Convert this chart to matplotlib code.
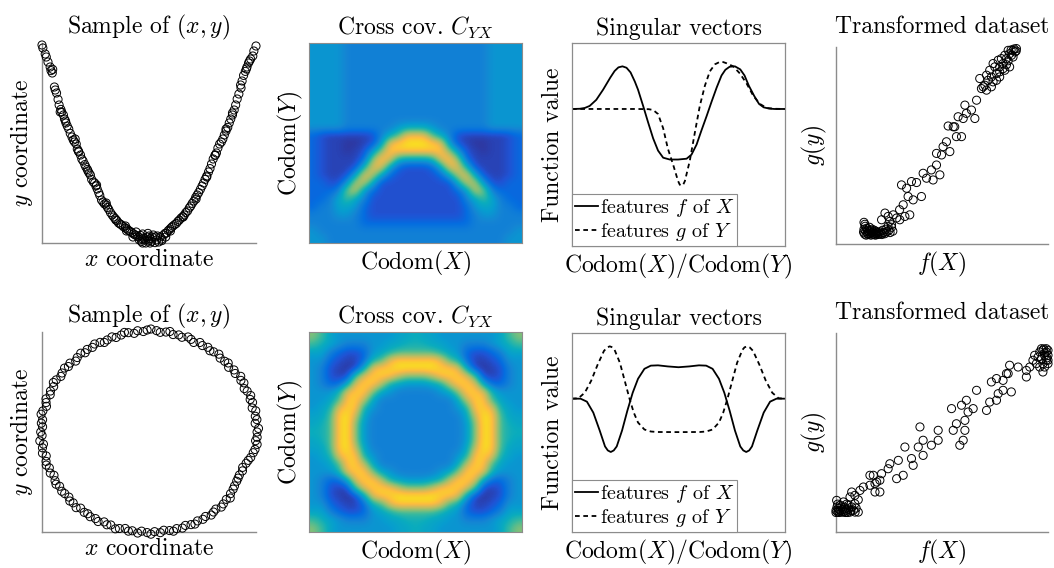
import matplotlib
matplotlib.use("Agg")
import matplotlib.pyplot as plt
import numpy as np
from matplotlib.colors import LinearSegmentedColormap

plt.rcParams['font.family'] = 'cmr10'
plt.rcParams['mathtext.fontset'] = 'cm'
plt.rcParams['axes.unicode_minus'] = False
plt.rcParams['axes.formatter.use_mathtext'] = True

# ---------------------------------------------------------------
# data (axes are normalised to 0..1)
# ---------------------------------------------------------------

# parabola sample (top left)
PARABOLA = [
    (0.000, 0.990), (0.004, 0.975), (0.015, 0.945), (0.020, 0.930), (0.028, 0.905),
    (0.038, 0.880), (0.042, 0.862), (0.048, 0.850), (0.050, 0.868), (0.058, 0.780),
    (0.062, 0.765), (0.068, 0.750), (0.075, 0.718), (0.080, 0.690), (0.085, 0.655),
    (0.088, 0.668), (0.092, 0.655), (0.100, 0.640), (0.105, 0.620), (0.110, 0.610),
    (0.112, 0.600), (0.118, 0.585), (0.125, 0.570), (0.132, 0.548), (0.140, 0.530),
    (0.146, 0.515), (0.152, 0.505), (0.155, 0.520), (0.160, 0.495), (0.165, 0.470),
    (0.170, 0.460), (0.172, 0.455), (0.180, 0.440), (0.186, 0.420), (0.192, 0.410),
    (0.200, 0.392), (0.205, 0.380), (0.212, 0.368), (0.215, 0.360), (0.220, 0.350),
    (0.226, 0.340), (0.232, 0.318), (0.240, 0.305), (0.246, 0.300), (0.252, 0.285),
    (0.255, 0.290), (0.258, 0.270), (0.265, 0.252), (0.270, 0.238), (0.278, 0.215),
    (0.285, 0.205), (0.292, 0.195), (0.300, 0.190), (0.300, 0.200), (0.306, 0.178),
    (0.312, 0.168), (0.320, 0.152), (0.328, 0.140), (0.335, 0.130), (0.342, 0.122),
    (0.345, 0.115), (0.350, 0.112), (0.358, 0.100), (0.365, 0.095), (0.372, 0.090),
    (0.380, 0.082), (0.390, 0.075), (0.390, 0.085), (0.398, 0.070), (0.405, 0.062),
    (0.412, 0.058), (0.420, 0.052), (0.428, 0.045), (0.436, 0.040), (0.440, 0.055),
    (0.445, 0.035), (0.452, 0.030), (0.455, 0.015), (0.460, 0.038), (0.468, 0.020),
    (0.470, 0.045), (0.475, 0.025), (0.482, 0.015), (0.485, 0.000), (0.490, 0.030),
    (0.498, 0.010), (0.500, 0.035), (0.505, 0.022), (0.512, 0.008), (0.515, 0.030),
    (0.520, 0.040), (0.528, 0.002), (0.530, 0.030), (0.535, 0.015), (0.545, 0.005),
    (0.552, 0.030), (0.560, 0.020), (0.560, 0.012), (0.568, 0.040), (0.575, 0.048),
    (0.582, 0.050), (0.590, 0.062), (0.598, 0.070), (0.600, 0.060), (0.605, 0.078),
    (0.612, 0.085), (0.620, 0.092), (0.628, 0.098), (0.635, 0.108), (0.642, 0.115),
    (0.650, 0.125), (0.658, 0.132), (0.660, 0.130), (0.665, 0.140), (0.672, 0.152),
    (0.680, 0.160), (0.688, 0.175), (0.695, 0.185), (0.702, 0.198), (0.710, 0.210),
    (0.718, 0.228), (0.720, 0.220), (0.725, 0.240), (0.732, 0.252), (0.740, 0.268),
    (0.748, 0.285), (0.755, 0.300), (0.762, 0.318), (0.770, 0.335), (0.770, 0.330),
    (0.778, 0.355), (0.785, 0.372), (0.792, 0.395), (0.800, 0.420), (0.808, 0.438),
    (0.810, 0.440), (0.815, 0.450), (0.822, 0.475), (0.830, 0.495), (0.838, 0.505),
    (0.845, 0.520), (0.852, 0.540), (0.860, 0.560), (0.860, 0.570), (0.868, 0.578),
    (0.875, 0.600), (0.882, 0.620), (0.890, 0.640), (0.890, 0.650), (0.898, 0.665),
    (0.905, 0.690), (0.912, 0.720), (0.920, 0.745), (0.928, 0.790), (0.930, 0.775),
    (0.935, 0.810), (0.942, 0.838), (0.950, 0.858), (0.955, 0.870), (0.958, 0.880),
    (0.965, 0.900), (0.970, 0.910), (0.975, 0.920), (0.985, 0.935), (0.990, 0.960),
    (1.000, 0.985), (0.395, 0.060), (0.425, 0.030), (0.465, 0.008), (0.495, 0.048),
    (0.540, 0.035), (0.578, 0.030), (0.470, 0.000), (0.505, 0.000),
]

# circle sample (bottom left), angle in degrees and radius about (0.5, 0.5)
CIRCLE_ANGLE = [
    0, 2, 5, 7, 9, 12, 14, 17, 19, 21, 24, 26, 29, 31, 33, 36, 38, 41, 43, 45, 48, 50, 53, 55, 57,
    60, 62, 65, 67, 69, 72, 74, 77, 79, 81, 84, 86, 89, 91, 93, 96, 98, 101, 103, 105, 108, 110, 113, 115, 117,
    120, 122, 125, 127, 129, 132, 134, 137, 139, 141, 144, 146, 149, 151, 153, 156, 158, 161, 163, 165, 168, 170, 173, 175, 177,
    180, 182, 185, 187, 189, 192, 194, 197, 199, 201, 204, 206, 209, 211, 213, 216, 218, 221, 223, 225, 228, 230, 233, 235, 237,
    240, 242, 245, 247, 249, 252, 254, 257, 259, 261, 264, 266, 269, 271, 273, 276, 278, 281, 283, 285, 288, 290, 293, 295, 297,
    300, 302, 305, 307, 309, 312, 314, 317, 319, 321, 324, 326, 329, 331, 333, 336, 338, 341, 343, 345, 348, 350, 353, 355, 357,
]
CIRCLE_RADIUS = [
    .505, .512, .498, .508, .503, .510, .497, .506, .500, .509, .502, .495, .507, .501, .511, .498, .504, .493, .506, .500, .497, .508, .502, .496, .505,
    .499, .507, .494, .503, .509, .498, .505, .500, .512, .506, .501, .508, .515, .510, .503, .509, .498, .506, .511, .502, .497, .506, .500, .494, .503,
    .508, .499, .504, .496, .507, .501, .493, .505, .499, .508, .502, .497, .506, .511, .500, .504, .498, .509, .503, .496, .507, .512, .501, .505, .498,
    .506, .500, .512, .497, .504, .509, .495, .503, .508, .499, .505, .494, .502, .507, .498, .504, .500, .496, .506, .501, .509, .497, .503, .499, .505,
    .500, .507, .496, .504, .498, .509, .502, .495, .505, .500, .508, .497, .503, .511, .499, .506, .496, .502, .509, .500, .505, .497, .503, .508, .499,
    .504, .498, .507, .501, .496, .505, .500, .494, .503, .490, .486, .482, .478, .476, .474, .478, .472, .480, .485, .492, .498, .503, .509, .500, .506,
]

# transformed dataset, top row: (f(X), g(y))
TRANSFORMED_TOP = [
    (0.130, 0.060), (0.132, 0.075), (0.135, 0.050), (0.138, 0.090), (0.140, 0.065), (0.142, 0.045),
    (0.145, 0.080), (0.148, 0.055), (0.150, 0.070), (0.152, 0.048), (0.155, 0.062), (0.158, 0.085),
    (0.160, 0.052), (0.162, 0.068), (0.165, 0.045), (0.168, 0.058), (0.170, 0.075), (0.172, 0.050),
    (0.175, 0.062), (0.178, 0.048), (0.180, 0.070), (0.183, 0.055), (0.186, 0.045), (0.188, 0.065),
    (0.190, 0.052), (0.193, 0.060), (0.196, 0.048), (0.200, 0.058), (0.204, 0.050), (0.208, 0.062),
    (0.212, 0.055), (0.216, 0.048), (0.220, 0.070), (0.225, 0.058), (0.230, 0.052), (0.235, 0.075),
    (0.240, 0.062), (0.245, 0.090), (0.250, 0.070), (0.255, 0.058), (0.262, 0.085), (0.268, 0.065),
    (0.132, 0.110), (0.136, 0.100), (0.215, 0.123), (0.254, 0.115), (0.270, 0.148), (0.300, 0.174),
    (0.317, 0.199), (0.348, 0.148), (0.340, 0.241), (0.364, 0.224), (0.309, 0.300), (0.333, 0.283),
    (0.356, 0.317), (0.380, 0.312), (0.403, 0.241), (0.411, 0.359), (0.427, 0.334), (0.450, 0.376),
    (0.458, 0.325), (0.490, 0.351), (0.474, 0.401), (0.498, 0.452), (0.505, 0.494), (0.537, 0.469),
    (0.474, 0.460), (0.521, 0.519), (0.529, 0.599), (0.553, 0.595), (0.560, 0.595), (0.568, 0.545),
    (0.592, 0.545), (0.576, 0.646), (0.600, 0.637), (0.615, 0.663), (0.639, 0.680), (0.655, 0.637),
    (0.608, 0.705), (0.663, 0.730), (0.678, 0.840), (0.686, 0.789), (0.702, 0.806), (0.710, 0.781),
    (0.733, 0.798), (0.741, 0.823), (0.710, 0.857), (0.757, 0.865), (0.772, 0.848), (0.725, 0.882),
    (0.741, 0.916), (0.772, 0.899), (0.788, 0.916), (0.804, 0.941), (0.819, 0.966), (0.835, 0.983),
    (0.851, 0.992), (0.812, 0.983), (0.796, 0.958), (0.780, 0.941), (0.765, 0.933), (0.749, 0.899),
    (0.717, 0.831), (0.694, 0.798), (0.819, 0.899), (0.835, 0.949), (0.796, 0.882), (0.772, 0.874),
    (0.757, 0.831), (0.733, 0.848), (0.231, 0.157), (0.246, 0.140), (0.286, 0.132), (0.262, 0.098),
    (0.301, 0.123), (0.325, 0.140), (0.845, 0.975), (0.828, 0.958), (0.840, 0.990), (0.812, 0.930),
    (0.788, 0.890), (0.804, 0.910), (0.826, 0.985), (0.850, 0.980),
]

# transformed dataset, bottom row
TRANSFORMED_BOTTOM = [
    (0.000, 0.109), (0.005, 0.126), (0.008, 0.100), (0.011, 0.117), (0.019, 0.109), (0.027, 0.126),
    (0.035, 0.100), (0.042, 0.117), (0.050, 0.109), (0.058, 0.134), (0.066, 0.100), (0.074, 0.126),
    (0.082, 0.109), (0.089, 0.142), (0.105, 0.100), (0.003, 0.159), (0.035, 0.151), (0.066, 0.176),
    (0.074, 0.201), (0.089, 0.184), (0.105, 0.162), (0.113, 0.209), (0.129, 0.226), (0.160, 0.285),
    (0.176, 0.285), (0.160, 0.235), (0.184, 0.243), (0.192, 0.251), (0.207, 0.260), (0.184, 0.201),
    (0.207, 0.201), (0.215, 0.293), (0.246, 0.318), (0.254, 0.343), (0.286, 0.268), (0.317, 0.285),
    (0.294, 0.360), (0.325, 0.427), (0.356, 0.369), (0.364, 0.335), (0.388, 0.427), (0.396, 0.528),
    (0.411, 0.461), (0.411, 0.385), (0.450, 0.436), (0.482, 0.511), (0.482, 0.461), (0.545, 0.620),
    (0.553, 0.511), (0.568, 0.544), (0.584, 0.436), (0.600, 0.461), (0.608, 0.511), (0.592, 0.637),
    (0.608, 0.561), (0.615, 0.662), (0.623, 0.603), (0.647, 0.620), (0.663, 0.712), (0.710, 0.611),
    (0.725, 0.653), (0.757, 0.662), (0.733, 0.754), (0.757, 0.771), (0.765, 0.695), (0.788, 0.712),
    (0.788, 0.762), (0.804, 0.796), (0.812, 0.796), (0.819, 0.838), (0.827, 0.704), (0.859, 0.829),
    (0.898, 0.812), (0.898, 0.779), (0.914, 0.829), (0.929, 0.863), (0.937, 0.888), (0.953, 0.879),
    (0.945, 0.846), (0.961, 0.905), (0.976, 0.913), (0.992, 0.905), (1.000, 0.913), (0.984, 0.888),
    (1.000, 0.888), (0.969, 0.871), (0.992, 0.863), (0.976, 0.846), (0.984, 0.829), (1.000, 0.863),
    (0.976, 0.804), (0.961, 0.829), (0.992, 0.921), (0.969, 0.921), (1.000, 0.846), (0.012, 0.105),
    (0.030, 0.112), (0.045, 0.098), (0.060, 0.115), (0.020, 0.135), (0.050, 0.140), (0.985, 0.900),
    (0.995, 0.875), (0.980, 0.920), (0.000, 0.098), (0.015, 0.098), (0.025, 0.100), (0.040, 0.105),
    (0.055, 0.098), (0.070, 0.108), (0.090, 0.100), (0.095, 0.120), (0.008, 0.140), (0.040, 0.125),
]

# singular vectors: x positions and function values
TOP_F_X = [0, .036, .06, .083, .114, .146, .18, .2, .218, .237, .256, .275, .295, .31, .334, .357,
           .381, .404, .428, .459, .498, .538, .561, .585, .608, .632, .655, .679, .702, .72, .74,
           .765, .79, .81, .83, .855, .878, .9, .925, .95, 1.0]
TOP_F_Y = [.675, .676, .68, .69, .72, .77, .83, .862, .88, .885, .878, .855, .81, .77, .69, .61,
           .53, .47, .435, .426, .426, .43, .45, .50, .57, .64, .71, .78, .84, .868, .883,
           .885, .87, .84, .79, .74, .70, .683, .677, .675, .675]
TOP_G_X = [0, .1, .2, .3, .36, .381, .404, .428, .45, .475, .498, .506, .514, .522, .53, .553,
           .577, .6, .624, .647, .671, .694, .71, .726, .757, .788, .82, .851, .882, .914, .95, 1.0]
TOP_G_Y = [.675, .675, .675, .675, .674, .67, .65, .58, .48, .40, .32, .302, .297, .302, .32, .42,
           .56, .69, .79, .86, .895, .907, .906, .90, .885, .85, .80, .74, .70, .68, .676, .675]
BOT_F_X = [0, .04, .07, .10, .13, .155, .168, .182, .196, .21, .235, .26, .285, .31, .34, .37, .404,
           .45, .5, .55, .596, .63, .66, .69, .715, .74, .765, .79, .804, .818, .832, .845, .87,
           .90, .93, .96, 1.0]
BOT_F_Y = [.67, .67, .655, .60, .51, .43, .41, .402, .41, .43, .51, .61, .70, .77, .82, .836, .8375,
           .832, .828, .832, .8375, .836, .82, .77, .70, .61, .51, .43, .41, .402, .41, .43, .51,
           .60, .655, .67, .67]
BOT_G_X = [0, .03, .06, .09, .12, .15, .165, .177, .19, .2, .225, .25, .27, .29, .31, .34, .37, .40,
           .5, .60, .63, .66, .69, .71, .73, .75, .775, .80, .81, .823, .835, .85, .88, .91, .94,
           .97, 1.0]
BOT_G_Y = [.67, .672, .70, .76, .84, .91, .927, .933, .928, .915, .85, .75, .67, .60, .55, .515, .505,
           .5025, .502, .5025, .505, .515, .55, .60, .67, .75, .85, .915, .928, .933, .927, .91, .84,
           .76, .70, .672, .67]

# cross covariance images, coded by colour level (row 0 = top)
LEVELS = {'0': 0.03, '1': 0.06, '2': 0.09, '3': 0.15, '4': 0.24, '5': 0.31, '6': 0.37,
          '7': 0.43, '8': 0.52, '9': 0.62, 'a': 0.72, 'b': 0.80, 'c': 0.88, 'd': 0.96}

COV_TOP = [
    "55554 44444 44444 44444 45555",
    "55554 44444 44444 44444 45555",
    "55554 44444 44444 44444 45555",
    "55554 44444 44444 44444 45555",
    "55554 44444 44444 44444 45555",
    "55554 44444 44444 44444 45555",
    "55554 44444 44444 44444 45555",
    "55554 44444 44444 44444 45555",
    "55554 44444 44444 44444 45555",
    "55554 44444 44444 44444 45555",
    "55554 44444 56665 44444 45555",
    "32111 11246 8bbb8 64211 11123",
    "32110 0125b cdddc b5210 01123",
    "32110 1259c ccccc c9521 01123",
    "32111 139cb 76667 bc931 11123",
    "32111 27bb6 32223 6bb72 11123",
    "32112 6ba63 22222 36ab6 21123",
    "33225 aa622 22222 226aa 52233",
    "33349 a5322 22222 2235a 94333",
    "33468 64222 22222 22246 86433",
    "34466 53222 22222 22235 66443",
    "44455 43222 22222 22234 55444",
    "44444 43333 33333 33334 44444",
    "54444 44444 44444 44444 44445",
    "55444 44444 44444 44444 44455",
]

COV_BOTTOM = [
    "98655 55555 66766 55555 55689",
    "87654 44556 67776 65544 45678",
    "66432 23567 88888 76532 23466",
    "55321 1378b ccccc b8731 12355",
    "54210 16bcc ddddd ccb61 01245",
    "54211 8bccc a999a cccb8 11245",
    "54336 bcca7 65556 7accb 63345",
    "5557b cc965 44444 569cc b7555",
    "5568c ca644 44444 446ac c8655",
    "567bc c7544 44444 4457c cb765",
    "668cd a6444 44444 4446a dc866",
    "678cd 95444 44444 44459 dc876",
    "778cd 95444 44444 44459 dc877",
    "678cd 95444 44444 44459 dc876",
    "668cd a6444 44444 4446a dc866",
    "567bc c7544 44444 4457c cb765",
    "5568c ca644 44444 446ac c8655",
    "5557b cc965 44444 569cc b7555",
    "54336 bcca7 65556 7accb 63345",
    "54211 8bccc a999a cccb8 11245",
    "54210 16bcc ddddd ccb61 01245",
    "55321 1378b ccccc b8731 12355",
    "66432 23567 88888 76532 23466",
    "87654 44556 67776 65544 45678",
    "98655 55555 66766 55555 55689",
]

# MATLAB parula, a few anchors
PARULA = [
    (0.2081, 0.1663, 0.5292), (0.1253, 0.3242, 0.8303), (0.0165, 0.4266, 0.8786),
    (0.0793, 0.5200, 0.8312), (0.0265, 0.6137, 0.8135), (0.0384, 0.6743, 0.7436),
    (0.2178, 0.7250, 0.6193), (0.4871, 0.7491, 0.4840), (0.7184, 0.7411, 0.3905),
    (0.9139, 0.7258, 0.3063), (0.9938, 0.7455, 0.2403), (0.9789, 0.8271, 0.1633),
    (0.9763, 0.9831, 0.0538),
]
PARULA_POS = [0, 6, 10, 16, 21, 26, 32, 38, 44, 50, 53, 57, 63]

GREY = '#8c8c8c'
FS = 17
parula = LinearSegmentedColormap.from_list(
    'parula', [(p / 63, c) for p, c in zip(PARULA_POS, PARULA)])


def decode(rows):
    return np.array([[LEVELS[ch] for ch in r.replace(' ', '')] for r in rows])


def scatter_panel(ax, pts, xlabel, ylabel):
    pts = np.array(pts)
    ax.scatter(pts[:, 0], pts[:, 1], s=34, facecolors='none', edgecolors='k',
               linewidths=0.7, clip_on=False, zorder=3)
    ax.set_xlim(0, 1)
    ax.set_ylim(0, 1)
    for s in ['top', 'right']:
        ax.spines[s].set_visible(False)
    for s in ['left', 'bottom']:
        ax.spines[s].set_color(GREY)
        ax.spines[s].set_linewidth(1.0)
    ax.set_xticks([])
    ax.set_yticks([])
    ax.set_xlabel(xlabel, fontsize=FS, labelpad=4)
    ax.set_ylabel(ylabel, fontsize=FS, labelpad=5)


def heat_panel(ax, rows):
    ax.imshow(decode(rows), cmap=parula, vmin=0, vmax=1, interpolation='bicubic',
              aspect='auto', extent=(0, 1, 0, 1))
    for s in ax.spines.values():
        s.set_color(GREY)
        s.set_linewidth(0.8)
    ax.set_xticks([])
    ax.set_yticks([])
    ax.set_title(r'Cross cov. $C_{YX}$', fontsize=FS, pad=6)
    ax.set_xlabel(r'Codom$(X)$', fontsize=FS, labelpad=4)
    ax.set_ylabel(r'Codom$(Y)$', fontsize=FS, labelpad=3)


def vector_panel(ax, fx, fy, gx, gy):
    ax.plot(fx, fy, color='k', lw=1.3, label=r'features $f$ of $X$')
    ax.plot(gx, gy, color='k', lw=1.3, ls=(0, (2.6, 2.0)), label=r'features $g$ of $Y$')
    ax.set_xlim(0, 1)
    ax.set_ylim(0, 1)
    for s in ax.spines.values():
        s.set_color(GREY)
        s.set_linewidth(0.9)
    ax.set_xticks([])
    ax.set_yticks([])
    ax.set_title('Singular vectors', fontsize=FS, pad=6)
    ax.set_xlabel(r'Codom$(X)$/Codom$(Y)$', fontsize=FS, labelpad=4)
    ax.set_ylabel('Function value', fontsize=FS, labelpad=6)
    leg = ax.legend(loc='lower left', borderaxespad=0, fontsize=14.5, fancybox=False,
                    handlelength=1.15, handletextpad=0.1, borderpad=0.15, labelspacing=0.1,
                    framealpha=1)
    leg.get_frame().set_edgecolor(GREY)
    leg.get_frame().set_linewidth(0.8)


fig = plt.figure(figsize=(10.54, 5.68), dpi=100)
W, H = 1054.0, 568.0


def add_axes(left, top, right, bottom):
    return fig.add_axes([left / W, 1 - bottom / H, (right - left) / W, (bottom - top) / H])


# top row
ax = add_axes(42, 43, 256, 243)
scatter_panel(ax, PARABOLA, r'$x$ coordinate', r'$y$ coordinate')
ax.set_title(r'Sample of $(x,y)$', fontsize=FS, pad=7)

ax = add_axes(309, 43, 522, 243)
heat_panel(ax, COV_TOP)

ax = add_axes(572, 43, 785, 246)
vector_panel(ax, TOP_F_X, TOP_F_Y, TOP_G_X, TOP_G_Y)

ax = add_axes(836, 47, 1048, 244)
scatter_panel(ax, TRANSFORMED_TOP, r'$f(X)$', r'$g(y)$')
ax.set_title('Transformed dataset', fontsize=FS, pad=10)

# bottom row
ang = np.deg2rad(np.array(CIRCLE_ANGLE, dtype=float))
rad = np.array(CIRCLE_RADIUS)
circle_pts = np.column_stack([0.5 + rad * np.cos(ang), 0.5 + rad * np.sin(ang)])

ax = add_axes(42, 332, 256, 532)
scatter_panel(ax, circle_pts, r'$x$ coordinate', r'$y$ coordinate')
ax.set_title(r'Sample of $(x,y)$', fontsize=FS, pad=7)

ax = add_axes(309, 332, 522, 532)
heat_panel(ax, COV_BOTTOM)

ax = add_axes(572, 333, 785, 532)
vector_panel(ax, BOT_F_X, BOT_F_Y, BOT_G_X, BOT_G_Y)

ax = add_axes(836, 333, 1048, 532)
scatter_panel(ax, TRANSFORMED_BOTTOM, r'$f(X)$', r'$g(y)$')
ax.set_title('Transformed dataset', fontsize=FS, pad=10)

fig.savefig('out.png', dpi=100)
